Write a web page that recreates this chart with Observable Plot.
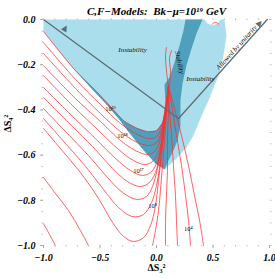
<!DOCTYPE html>
<html><head><meta charset="utf-8">
<script src="https://cdn.jsdelivr.net/npm/d3@7"></script>
<script src="https://cdn.jsdelivr.net/npm/@observablehq/plot@0.6"></script>
<style>body{margin:0;background:#fff}</style>
</head><body><div id="chart"></div>
<script>
// ---- data (ΔS3², ΔS4²) ----
const xTicks = [-1, -0.5, 0, 0.5, 1];
const yTicks = [0, -0.2, -0.4, -0.6, -0.8, -1];

// light blue "Instability" region outline
const instabilityRegion = [[-1,0],[0.425,0],[0.451,-0.018],[0.496,-0.027],[0.540,-0.018],[0.566,0],[0.602,0],
  [0.619,-0.071],[0.593,-0.159],[0.549,-0.248],[0.460,-0.358],[0.389,-0.438],[0.327,-0.513],[0.265,-0.566],
  [0.177,-0.615],[0.071,-0.664],[-0.009,-0.637],[-0.097,-0.588],[-0.186,-0.535],[-0.257,-0.491],[-0.336,-0.438],
  [-0.451,-0.372],[-0.584,-0.301],[-0.717,-0.230],[-0.868,-0.137],[-1,-0.053]];
// dark "Stability" band + valley
const stabilityRegion = [[0.257,0],[0.239,-0.049],[0.204,-0.115],[0.159,-0.190],[0.115,-0.257],[0.071,-0.288],
  [0.080,-0.381],[0.053,-0.456],[0,-0.491],[-0.080,-0.496],[-0.186,-0.478],[-0.292,-0.447],[-0.407,-0.385],
  [-0.540,-0.314],[-0.717,-0.226],[-0.584,-0.301],[-0.451,-0.372],[-0.336,-0.438],[-0.257,-0.491],[-0.186,-0.535],
  [-0.097,-0.588],[-0.009,-0.637],[0.071,-0.664],[0.106,-0.624],[0.150,-0.580],[0.186,-0.535],[0.212,-0.469],
  [0.212,-0.358],[0.230,-0.283],[0.265,-0.204],[0.310,-0.128],[0.354,-0.062],[0.407,0]];

// unitarity bound (V shape)
const unitarityLine = [[-1,0],[0.195,-0.438],[0.98,0]];
const arrowPts = [[-0.805,-0.037],[0.915,-0.015]];
const arrowRot = [30, 42];

// contour lines of the Bk-mu scale (log10 levels)
const c19 = [[-1,-0.053],[-0.717,-0.226],[-0.540,-0.314],[-0.407,-0.385],[-0.292,-0.447],[-0.186,-0.478],[-0.080,-0.496],[0,-0.491],[0.053,-0.456],[0.080,-0.381],[0.106,-0.296]];
const c18 = [[-1,-0.102],[-0.717,-0.265],[-0.496,-0.376],[-0.319,-0.460],[-0.186,-0.504],[-0.071,-0.527],[0,-0.518],[0.044,-0.478],[0.080,-0.394],[0.106,-0.296]];
const c17 = [[-1,-0.150],[-0.717,-0.305],[-0.496,-0.416],[-0.319,-0.496],[-0.186,-0.540],[-0.071,-0.558],[0,-0.544],[0.044,-0.496],[0.080,-0.403],[0.106,-0.296]];
const c16 = [[-1,-0.204],[-0.717,-0.350],[-0.496,-0.451],[-0.319,-0.535],[-0.186,-0.580],[-0.080,-0.597],[-0.009,-0.580],[0.035,-0.527],[0.071,-0.438],[0.106,-0.296]];
const c15 = [[-1,-0.248],[-0.743,-0.381],[-0.513,-0.491],[-0.336,-0.575],[-0.204,-0.624],[-0.097,-0.642],[-0.027,-0.624],[0.027,-0.571],[0.062,-0.482],[0.088,-0.381],[0.106,-0.296]];
const c14 = [[-1,-0.301],[-0.761,-0.420],[-0.540,-0.527],[-0.363,-0.615],[-0.230,-0.668],[-0.124,-0.690],[-0.044,-0.673],[0.009,-0.624],[0.044,-0.549],[0.071,-0.447],[0.106,-0.296]];
const c13 = [[-1,-0.345],[-0.779,-0.456],[-0.566,-0.562],[-0.389,-0.659],[-0.257,-0.717],[-0.142,-0.739],[-0.062,-0.721],[-0.009,-0.677],[0.027,-0.602],[0.062,-0.491],[0.088,-0.381],[0.106,-0.296]];
const c12 = [[-1,-0.394],[-0.805,-0.496],[-0.602,-0.602],[-0.434,-0.699],[-0.301,-0.765],[-0.177,-0.796],[-0.088,-0.783],[-0.035,-0.739],[0.009,-0.659],[0.044,-0.558],[0.080,-0.425],[0.106,-0.296]];
const c11 = [[-1,-0.438],[-0.805,-0.549],[-0.628,-0.650],[-0.469,-0.752],[-0.336,-0.832],[-0.212,-0.872],[-0.115,-0.863],[-0.044,-0.810],[0,-0.735],[0.035,-0.624],[0.071,-0.469],[0.097,-0.358],[0.106,-0.296]];
const c10 = [[-1,-0.482],[-0.850,-0.571],[-0.673,-0.677],[-0.513,-0.792],[-0.389,-0.898],[-0.292,-0.960],[-0.204,-0.982],[-0.115,-0.965],[-0.053,-0.912],[-0.009,-0.823],[0.018,-0.712],[0.044,-0.602],[0.071,-0.469],[0.088,-0.381],[0.106,-0.296]];
const c9 = [[-1,-0.699],[-0.894,-0.770],[-0.779,-0.845],[-0.673,-0.934],[-0.602,-1]];
const c8 = [[-1,-0.903],[-0.947,-0.951],[-0.894,-1]];
const b8 = [[-0.035,-1],[-0.009,-0.934],[0.018,-0.845],[0.035,-0.757],[0.053,-0.646],[0.071,-0.535],[0.088,-0.425],[0.106,-0.296]];
const b6 = [[0.080,-1],[0.080,-0.889],[0.088,-0.779],[0.097,-0.668],[0.097,-0.535],[0.106,-0.403],[0.106,-0.296]];
const b5 = [[0.186,-1],[0.177,-0.889],[0.168,-0.779],[0.150,-0.646],[0.133,-0.513],[0.115,-0.403],[0.106,-0.296]];
const b4 = [[0.301,-1],[0.283,-0.889],[0.257,-0.779],[0.221,-0.646],[0.177,-0.513],[0.142,-0.403],[0.106,-0.296]];
const b3 = [[0.416,-1],[0.381,-0.889],[0.336,-0.779],[0.283,-0.646],[0.221,-0.513],[0.159,-0.394],[0.106,-0.296]];
const spikeA = [[0.106,-0.296],[0.088,-0.226],[0.080,-0.159],[0.088,-0.124]];
const spikeB = [[0.115,-0.296],[0.124,-0.226],[0.115,-0.173],[0.133,-0.137]];
const notchBit = [[0.49,-0.022],[0.52,-0.012],[0.55,-0.02]];

const contourList = [c19,c18,c17,c16,c15,c14,c13,c12,c11,c10,c9,c8,b8,b6,b5,b4,b3,spikeA,spikeB,notchBit];

const contourLabels = ["10\u00b9\u2079","10\u00b9\u2078","10\u00b9\u2077","10\u2078","10\u2074"];
const contourLabelPos = [[-0.407,-0.394],[-0.301,-0.513],[-0.159,-0.668],[-0.035,-0.823],[0.283,-0.925]];

const regionLabels = ["Instability","Instability","Stability","Allowed by unitarity"];
const regionLabelPos = [[-0.212,-0.133],[0.389,-0.261],[0.204,-0.190],[0.708,-0.124]];
const regionLabelRot = [0, 0, 78, -48];

const title = "C,F\u2212Models:  Bk\u2212\u03bc=10\u00b9\u2079 GeV";

// ---- build tables ----
const contourRows = [];
contourList.forEach((c, i) => c.forEach(p => contourRows.push({id: "c" + i, x: p[0], y: p[1]})));
const pt = a => a.map(p => ({x: p[0], y: p[1]}));
const serif = "Liberation Serif, Times New Roman, serif";

const chart = Plot.plot({
  width: 275, height: 278,
  marginLeft: 43, marginRight: 6, marginTop: 19, marginBottom: 33,
  x: {domain: [-1, 1], label: null},
  y: {domain: [-1, 0], label: null},
  marks: [
    Plot.line(pt(instabilityRegion), {x: "x", y: "y", fill: "#abdeec", stroke: "none", curve: "linear-closed"}),
    Plot.line(pt(stabilityRegion), {x: "x", y: "y", fill: "#4f9fbd", stroke: "none", curve: "linear-closed"}),
    Plot.line(contourRows, {x: "x", y: "y", z: "id", stroke: "#ff2e2e", strokeWidth: 0.75, curve: "catmull-rom"}),
    Plot.line(pt(unitarityLine), {x: "x", y: "y", stroke: "#5f6c72", strokeWidth: 1.3}),
    Plot.text(arrowPts, {x: d => d[0], y: d => d[1], text: () => "\u25b2", rotate: (d, i) => arrowRot[i],
      fill: "#5f6c72", fontSize: 8, fontFamily: "DejaVu Sans"}),
    Plot.text(regionLabels, {x: (d, i) => regionLabelPos[i][0], y: (d, i) => regionLabelPos[i][1],
      rotate: (d, i) => regionLabelRot[i], text: d => d, fontSize: 7, fontStyle: "italic",
      fontFamily: serif, fill: "#111"}),
    Plot.text(contourLabels, {x: (d, i) => contourLabelPos[i][0], y: (d, i) => contourLabelPos[i][1],
      text: d => d, fontSize: 6.5, fontFamily: serif, fill: "#111"}),
    Plot.axisX({anchor: "bottom", ticks: d3.range(-1, 1.001, 0.1), tickSize: 1.5, tickFormat: () => "", stroke: "#bbb"}),
    Plot.axisX({anchor: "top", ticks: d3.range(-1, 1.001, 0.1), tickSize: 1.5, tickFormat: () => "", stroke: "#bbb"}),
    Plot.axisY({anchor: "left", ticks: d3.range(-1, 0.001, 0.05), tickSize: 1.5, tickFormat: () => "", stroke: "#bbb"}),
    Plot.axisY({anchor: "right", ticks: d3.range(-1, 0.001, 0.05), tickSize: 1.5, tickFormat: () => "", stroke: "#bbb"}),
    Plot.axisX({anchor: "bottom", ticks: xTicks, tickSize: 3, tickPadding: 5, tickFormat: d3.format(".1f"),
      stroke: "#aaa", fill: "black", fontSize: 10, fontWeight: "bold", fontStyle: "italic", fontFamily: serif}),
    Plot.axisY({anchor: "left", ticks: yTicks, tickSize: 3, tickPadding: 5, tickFormat: d3.format(".1f"),
      stroke: "#aaa", fill: "black", fontSize: 10, fontWeight: "bold", fontStyle: "italic", fontFamily: serif}),
    Plot.text([title], {frameAnchor: "top", dy: -12, text: d => d, fontSize: 11, fontWeight: "bold",
      fontStyle: "italic", fontFamily: serif, fill: "black"}),
    Plot.text(["\u0394S\u2083\u00b2"], {frameAnchor: "bottom", dy: 25, text: d => d, fontSize: 10,
      fontWeight: "bold", fontFamily: serif, fill: "black"}),
    Plot.text(["\u0394S\u2084\u00b2"], {frameAnchor: "left", dx: -36, rotate: -90, text: d => d, fontSize: 10,
      fontWeight: "bold", fontFamily: serif, fill: "black"})
  ]
});
document.getElementById("chart").appendChild(chart);
</script></body></html>
